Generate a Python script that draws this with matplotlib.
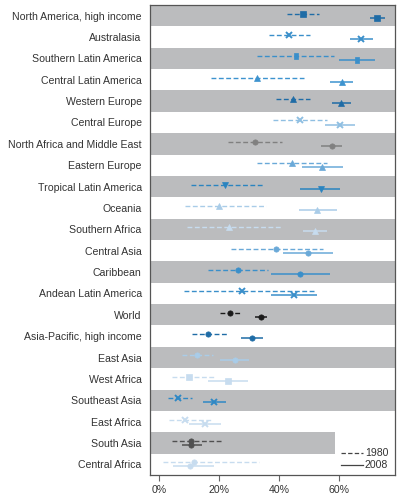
import matplotlib
matplotlib.use("Agg")
import matplotlib.pyplot as plt
from matplotlib.lines import Line2D
from matplotlib.patches import Rectangle

# %%
# Data (prevalence, %)
regions = [
    "North America, high income", "Australasia", "Southern Latin America",
    "Central Latin America", "Western Europe", "Central Europe",
    "North Africa and Middle East", "Eastern Europe", "Tropical Latin America",
    "Oceania", "Southern Africa", "Central Asia", "Caribbean",
    "Andean Latin America", "World", "Asia-Pacific, high income", "East Asia",
    "West Africa", "Southeast Asia", "East Africa", "South Asia", "Central Africa",
]

mean_1980 = [48.0, 43.3, 45.5, 32.6, 44.7, 46.9, 31.9, 44.1, 21.8, 20.0, 23.1,
             39.0, 26.2, 27.6, 23.5, 16.3, 12.6, 10.0, 6.1, 8.6, 10.5, 11.6]
low_1980 = [42.7, 36.6, 32.5, 17.2, 38.9, 37.8, 22.8, 32.5, 10.6, 8.6, 9.1,
            23.8, 16.3, 8.2, 20.3, 11.0, 7.5, 4.1, 2.9, 3.3, 4.2, 1.1]
high_1980 = [53.2, 50.2, 58.3, 48.2, 50.2, 56.0, 41.0, 55.8, 35.0, 35.5, 40.5,
             54.5, 36.3, 51.6, 26.9, 22.8, 18.0, 18.9, 10.9, 17.7, 21.0, 33.3]

mean_2008 = [72.6, 67.4, 65.9, 60.8, 60.6, 60.2, 57.5, 54.3, 53.8, 52.6, 51.9,
             49.7, 47.0, 44.9, 33.9, 30.9, 25.1, 22.9, 18.3, 15.2, 10.5, 10.1]
low_2008 = [70.2, 63.6, 60.0, 56.9, 57.5, 55.2, 53.9, 47.5, 46.9, 46.6, 47.8,
            41.2, 37.2, 37.1, 31.9, 27.3, 20.2, 16.3, 14.6, 10.0, 7.7, 4.5]
high_2008 = [75.2, 71.1, 71.9, 64.7, 63.9, 65.3, 61.0, 61.3, 60.2, 59.1, 56.0,
             58.0, 56.9, 52.5, 35.8, 34.6, 30.0, 29.5, 22.2, 20.6, 14.1, 18.1]

xticks = [0, 20, 40, 60]
xtick_labels = ["0%", "20%", "40%", "60%"]

# %%
# Per-region styling
tall_rect = [(-0.32, -0.5), (0.32, -0.5), (0.32, 0.5), (-0.32, 0.5), (-0.32, -0.5)]
markers = ["s", "x", tall_rect, "^", "^", "x", "o", "^", "v", "^", "^",
           "o", "o", "x", "o", "o", "o", "s", "x", "x", "o", "o"]
colors = ["#1f6ca6", "#3a8fca", "#3a8fca", "#3d93cf", "#1f6ca6", "#8fbfe2",
          "#808080", "#6aa9d8", "#2a84c0", "#a9cce8", "#c7dcef", "#6aa9d8",
          "#3a8fca", "#3a8fca", "#1a1a1a", "#1f6ca6", "#a9cce8", "#c7dcef",
          "#2f88c5", "#c7dcef", "#505050", "#c7dcef"]

band_color = "#bbbcbe"
text_color = "#333333"
offset = 0.095
x_min, x_max = -3.1, 78.6

plt.rcParams["font.family"] = ["Liberation Sans", "DejaVu Sans"]

fig = plt.figure(figsize=(3.97, 5.0), dpi=100)
ax = fig.add_axes([0.378, 0.05, 0.617, 0.94])

rows = list(range(len(regions)))
n = len(regions)

# alternating background bands
for i in rows:
    if i % 2 == 0:
        ax.axhspan(i - 0.5, i + 0.5, color=band_color, lw=0, zorder=0)

# white box behind the legend (cuts the last grey band)
ax.add_patch(Rectangle((58.5, n - 2.5), x_max - 58.5, 2.0, color="white",
                       lw=0, zorder=1))

for i in rows:
    c = colors[i]
    m = markers[i]
    mew = 1.4 if m == "x" else 0.5
    ms = 4.5 if m == "x" else 3.8
    # 1980: dashed
    ax.hlines(i - offset, low_1980[i], high_1980[i], color=c, lw=1.0,
              linestyles=(0, (3.5, 1.8)), zorder=2)
    ax.plot(mean_1980[i], i - offset, marker=m, color=c, ms=ms, mew=mew,
            mec=c, zorder=3)
    # 2008: solid
    ax.hlines(i + offset, low_2008[i], high_2008[i], color=c, lw=1.1, zorder=2)
    ax.plot(mean_2008[i], i + offset, marker=m, color=c, ms=ms, mew=mew,
            mec=c, zorder=3)

ax.set_ylim(n - 0.5, -0.5)
ax.set_xlim(x_min, x_max)
ax.set_yticks(rows)
ax.set_yticklabels(regions, fontsize=7.6, color=text_color)
ax.set_xticks(xticks)
ax.set_xticklabels(xtick_labels, fontsize=7.6, color=text_color)
ax.tick_params(axis="y", length=0, pad=6)
ax.tick_params(axis="x", length=4, width=0.8, color="#666666", pad=3)

for spine in ax.spines.values():
    spine.set_color("#555555")
    spine.set_linewidth(0.9)

handles = [
    Line2D([], [], color="#444444", lw=0.9, ls=(0, (3.5, 1.8))),
    Line2D([], [], color="#444444", lw=0.9),
]
leg = ax.legend(handles, ["1980", "2008"], loc="lower right", fontsize=7.6,
                frameon=False, bbox_to_anchor=(0.985, 0.003),
                borderaxespad=0.0, borderpad=0.3,
                handlelength=2.1, handletextpad=0.2, labelspacing=0.2)
for t in leg.get_texts():
    t.set_color(text_color)

fig.savefig("out.png", dpi=100)
